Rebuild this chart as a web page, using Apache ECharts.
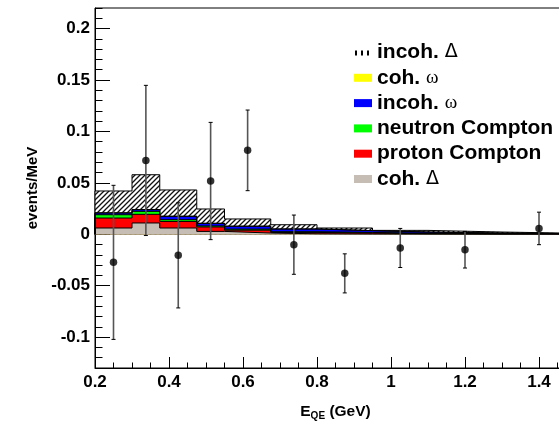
<!DOCTYPE html>
<html>
<head>
<meta charset="utf-8">
<script src="https://cdn.jsdelivr.net/npm/echarts@6/dist/echarts.min.js"></script>
<style>
html,body{margin:0;padding:0;background:#fff;}
#chart{width:559px;height:427px;}
</style>
</head>
<body>
<div id="chart"></div>
<script>
// ---- data ----
const binEdges = [0.2, 0.3, 0.375, 0.475, 0.55, 0.675, 0.8, 0.95, 1.1, 1.3, 1.5];
// stacked components, bottom to top
const cohDelta       = [0.0061, 0.0110, 0.0061, 0.0028, 0.0012, 0.0005, 0.0003, 0.0002, 0.0001, 0.0001];
const protonCompton  = [0.0097, 0.0084, 0.0064, 0.0043, 0.0028, 0.0013, 0.0009, 0.0004, 0.0003, 0.0001];
const neutronCompton = [0.0032, 0.0029, 0.0017, 0.0010, 0.0010, 0.0007, 0.0006, 0.0004, 0.0002, 0.0001];
const incohOmega     = [0.0017, 0.0016, 0.0032, 0.0025, 0.0028, 0.0026, 0.0017, 0.0012, 0.0006, 0.0003];
const cohOmega       = [0.0002, 0.0002, 0.0002, 0.0001, 0.0001, 0.0001, 0.0001, 0.0000, 0.0000, 0.0000];
const incohDelta     = [0.0212, 0.0338, 0.0255, 0.0139, 0.0070, 0.0041, 0.0025, 0.0016, 0.0010, 0.0004];

const pointX   = [0.25, 0.3375, 0.425, 0.5125, 0.6125, 0.7375, 0.875, 1.025, 1.2, 1.4];
const pointY   = [-0.0273, 0.0718, -0.0205, 0.0518, 0.0816, -0.0101, -0.0380, -0.0133, -0.0150, 0.0057];
const pointErr = [0.0749, 0.0730, 0.0511, 0.0570, 0.0392, 0.0288, 0.0190, 0.0190, 0.0178, 0.0158];

const xTickLabels = [0.2, 0.4, 0.6, 0.8, 1.0, 1.2, 1.4];
const yTickLabels = [-0.1, -0.05, 0, 0.05, 0.1, 0.15, 0.2];

const layerNames = ['coh. Δ', 'proton Compton', 'neutron Compton', 'incoh. ω', 'coh. ω', 'incoh. Δ'];
const layerColors = ['#c6bdb4', '#ff0000', '#00ff00', '#0000ff', '#ffff00', 'hatch'];
const layerValues = [cohDelta, protonCompton, neutronCompton, incohOmega, cohOmega, incohDelta];

// ---- helpers ----
const FONT = "'Liberation Sans', Arial, Helvetica, sans-serif";
function makeHatch() {
  const c = document.createElement('canvas');
  const s = 5;
  c.width = s; c.height = s;
  const ctx = c.getContext('2d');
  ctx.fillStyle = '#fff';
  ctx.fillRect(0, 0, s, s);
  ctx.strokeStyle = '#111';
  ctx.lineWidth = 1.3;
  ctx.beginPath();
  ctx.moveTo(0, s); ctx.lineTo(s, 0);
  ctx.moveTo(-1, 1); ctx.lineTo(1, -1);
  ctx.moveTo(s - 1, s + 1); ctx.lineTo(s + 1, s - 1);
  ctx.stroke();
  return c;
}
function makeLegendHatch() {
  const c = document.createElement('canvas');
  c.width = 6; c.height = 8;
  const ctx = c.getContext('2d');
  ctx.fillStyle = '#fff';
  ctx.fillRect(0, 0, 6, 8);
  ctx.fillStyle = '#000';
  ctx.fillRect(1, 2, 2, 5);
  return c;
}
const hatchPattern = { image: makeHatch(), repeat: 'repeat' };
const legendHatch = { image: makeLegendHatch(), repeat: 'repeat' };

function stepData(vals) {
  const n = vals.length;
  const d = [[binEdges[0], 0]];
  for (let i = 0; i < n; i++) d.push([binEdges[i], vals[i]]);
  d.push([binEdges[n], vals[n - 1]]);
  d.push([binEdges[n], 0]);
  return d;
}

// cumulative stacks
const cumulative = [];
let running = new Array(binEdges.length - 1).fill(0);
for (let k = 0; k < layerValues.length; k++) {
  running = running.map((v, i) => v + layerValues[k][i]);
  cumulative.push(running.slice());
}

const series = [];
// draw top-most cumulative first so lower layers overlay it
for (let k = layerValues.length - 1; k >= 0; k--) {
  const col = layerColors[k] === 'hatch' ? hatchPattern : layerColors[k];
  series.push({
    name: layerNames[k],
    type: 'line',
    step: 'end',
    data: stepData(cumulative[k]),
    showSymbol: false,
    symbol: 'none',
    color: layerColors[k] === 'hatch' ? '#000' : layerColors[k],
    lineStyle: { color: '#000', width: 1 },
    areaStyle: { color: col, opacity: 1 },
    z: 2,
    silent: true
  });
}

series.push({
  type: 'custom',
  data: pointX.map((x, i) => [x, pointY[i], pointErr[i]]),
  encode: { x: 0, y: 1 },
  z: 4,
  silent: true,
  renderItem: function (params, api) {
    const x = api.value(0), y = api.value(1), e = api.value(2);
    const t = api.coord([x, y + e]);
    const b = api.coord([x, y - e]);
    return {
      type: 'group',
      children: [
        { type: 'line', shape: { x1: t[0], y1: t[1], x2: b[0], y2: b[1] }, style: { stroke: '#555', lineWidth: 1.6 } },
        { type: 'line', shape: { x1: t[0] - 2, y1: t[1], x2: t[0] + 2, y2: t[1] }, style: { stroke: '#000', lineWidth: 1 } },
        { type: 'line', shape: { x1: b[0] - 2, y1: b[1], x2: b[0] + 2, y2: b[1] }, style: { stroke: '#000', lineWidth: 1 } }
      ]
    };
  }
});
series.push({
  type: 'scatter',
  data: pointX.map((x, i) => [x, pointY[i]]),
  symbol: 'circle',
  symbolSize: 7.5,
  itemStyle: { color: '#000' },
  z: 5,
  silent: true
});

const xMinor = [];
for (let k = 4; k <= 30; k++) xMinor.push(Math.round(k * 5) / 100);
const yMinor = [];
for (let k = -13; k <= 22; k++) yMinor.push(k / 100);

const fmt = v => String(+Number(v).toFixed(3));
const labelStyle = { fontSize: 17, fontWeight: 'bold', color: '#000', fontFamily: FONT };

const legendOrder = ['incoh. Δ', 'coh. ω', 'incoh. ω', 'neutron Compton', 'proton Compton', 'coh. Δ'];
const legendData = legendOrder.map(n => {
  const k = layerNames.indexOf(n);
  const c = layerColors[k] === 'hatch' ? legendHatch : layerColors[k];
  return { name: n, icon: 'rect', itemStyle: { color: c, borderWidth: 0 } };
});

const chart = echarts.init(document.getElementById('chart'), null, { renderer: 'canvas' });
chart.setOption({
  animation: false,
  backgroundColor: '#fff',
  grid: {
    left: 95, right: -17, top: 8, bottom: 59,
    show: true, borderColor: '#000', borderWidth: 1,
    outerBoundsMode: 'none', containLabel: false
  },
  legend: {
    orient: 'vertical',
    left: 354, top: 42,
    padding: 0,
    itemWidth: 18, itemHeight: 8,
    itemGap: 4.3,
    selectedMode: false,
    data: legendData,
    lineStyle: { width: 0 },
    textStyle: {
      fontSize: 21, fontWeight: 'bold', color: '#000', fontFamily: FONT, lineHeight: 20,
      rich: {
        d: { fontSize: 19, fontWeight: 'normal', color: '#000', fontFamily: "'DejaVu Sans', sans-serif", lineHeight: 20 },
        w: { fontSize: 19, fontWeight: 'normal', color: '#000', fontFamily: "'Liberation Serif', serif", lineHeight: 20 }
      }
    },
    formatter: name => name.replace('Δ', '{d|Δ}').replace('ω', '{w|ω}')
  },
  xAxis: [
    {
      type: 'value', min: 0.2, max: 1.5, position: 'bottom',
      axisLine: { show: true, onZero: false, lineStyle: { color: '#000', width: 1 } },
      axisTick: { show: true, inside: true, length: 11, customValues: xTickLabels, lineStyle: { color: '#000', width: 1 } },
      axisLabel: Object.assign({ customValues: xTickLabels, formatter: fmt, margin: 6 }, labelStyle),
      splitLine: { show: false },
      name: 'E{sub|QE} (GeV)',
      nameLocation: 'middle',
      nameGap: 35,
      nameTextStyle: {
        fontSize: 15.5, fontWeight: 'bold', color: '#000', fontFamily: FONT, lineHeight: 18,
        rich: { sub: { fontSize: 10, fontWeight: 'bold', fontFamily: FONT, color: '#000', verticalAlign: 'bottom', lineHeight: 10, padding: [6, 0, 0, 0] } }
      }
    },
    {
      type: 'value', min: 0.2, max: 1.5, position: 'bottom',
      axisLine: { show: false, onZero: false },
      axisTick: { show: true, inside: true, length: 5.5, customValues: xMinor, lineStyle: { color: '#000', width: 1 } },
      axisLabel: { show: false },
      splitLine: { show: false }
    }
  ],
  yAxis: [
    {
      type: 'value', min: -0.13, max: 0.22, position: 'left',
      axisLine: { show: true, onZero: false, lineStyle: { color: '#000', width: 1 } },
      axisTick: { show: true, inside: true, length: 15, customValues: yTickLabels, lineStyle: { color: '#000', width: 1 } },
      axisLabel: Object.assign({ customValues: yTickLabels, formatter: fmt, margin: 5 }, labelStyle),
      splitLine: { show: false },
      name: 'events/MeV',
      nameLocation: 'middle',
      nameGap: 54,
      nameTextStyle: { fontSize: 15, fontWeight: 'bold', color: '#000', fontFamily: FONT }
    },
    {
      type: 'value', min: -0.13, max: 0.22, position: 'left',
      axisLine: { show: false, onZero: false },
      axisTick: { show: true, inside: true, length: 7.5, customValues: yMinor, lineStyle: { color: '#000', width: 1 } },
      axisLabel: { show: false },
      splitLine: { show: false }
    }
  ],
  series: series
});
</script>
</body>
</html>
